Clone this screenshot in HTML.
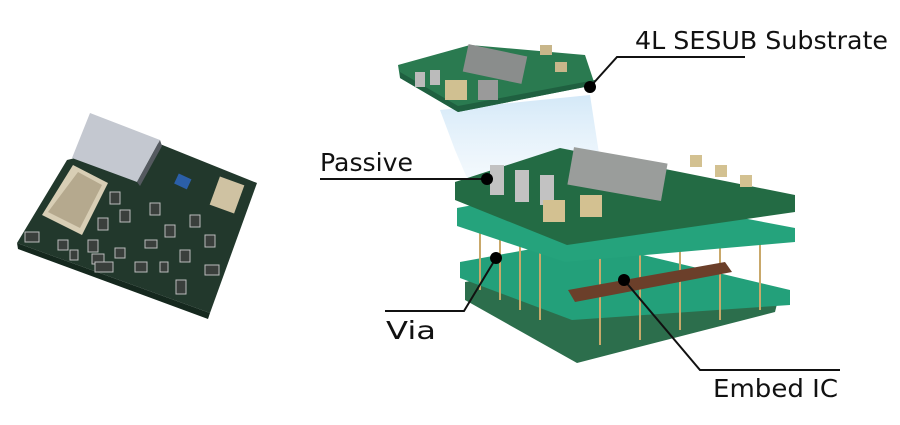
<!DOCTYPE html>
<html><head><style>
html,body{margin:0;padding:0;background:#fff;}
svg{display:block;}
text{font-family:"DejaVu Sans","Liberation Sans",sans-serif;font-size:25px;fill:#111;}
</style></head><body>
<svg width="900" height="425" viewBox="0 0 900 425">
<defs>
<linearGradient id="glow" x1="0" y1="0" x2="0" y2="1">
<stop offset="0" stop-color="#cfe6f7" stop-opacity="0.9"/>
<stop offset="1" stop-color="#e6f2fb" stop-opacity="0.4"/>
</linearGradient>
</defs>
<!-- left chip -->
<polygon points="67,160 150,140 257,183 210,313 17,243" fill="#22382c"/>
<polygon points="17,243 210,313 208,319 18,249" fill="#15281e"/>
<polygon points="90,113 160,140 137,182 72,158" fill="#c4c8d0"/>
<polygon points="137,182 160,140 162,146 140,186" fill="#555a60"/>
<polygon points="73,165 108,183 82,235 42,215" fill="#d8ceb5"/>
<polygon points="78,172 102,185 80,228 48,212" fill="#b5a98e"/>
<rect x="176" y="176" width="14" height="11" fill="#2b5fa8" transform="rotate(25 183 181)"/>
<rect x="214" y="180" width="26" height="30" fill="#cfc2a2" transform="rotate(20 227 195)"/>
<g fill="#3a3f3c" stroke="#bbb" stroke-width="1">
<rect x="110" y="192" width="10" height="12"/><rect x="120" y="210" width="10" height="12"/><rect x="98" y="218" width="10" height="12"/>
<rect x="150" y="203" width="10" height="12"/><rect x="165" y="225" width="10" height="12"/><rect x="190" y="215" width="10" height="12"/>
<rect x="205" y="235" width="10" height="12"/><rect x="180" y="250" width="10" height="12"/><rect x="145" y="240" width="12" height="8"/>
<rect x="115" y="248" width="10" height="10"/><rect x="88" y="240" width="10" height="12"/><rect x="25" y="232" width="14" height="10"/>
<rect x="58" y="240" width="10" height="10"/><rect x="70" y="250" width="8" height="10"/><rect x="92" y="254" width="12" height="10"/>
<rect x="135" y="262" width="12" height="10"/><rect x="95" y="262" width="18" height="10"/><rect x="160" y="262" width="8" height="10"/>
<rect x="176" y="280" width="10" height="14"/><rect x="205" y="265" width="14" height="10"/>
</g>
<!-- glow -->
<polygon points="440,110 590,95 600,160 470,185 455,150" fill="url(#glow)"/>
<!-- top small board -->
<polygon points="398,65 470,45 585,55 595,85 458,112 400,78" fill="#2a7a50"/>
<polygon points="400,78 458,112 595,85 595,80 458,106 400,72" fill="#1f6040"/>
<rect x="465" y="50" width="60" height="28" fill="#8a8d8c" transform="rotate(12 495 64)"/>
<rect x="445" y="80" width="22" height="20" fill="#d0c091"/><rect x="478" y="80" width="20" height="20" fill="#9a9a9a"/>
<rect x="415" y="72" width="10" height="15" fill="#bbb"/><rect x="430" y="70" width="10" height="15" fill="#bbb"/>
<rect x="540" y="45" width="12" height="10" fill="#c8b68a"/><rect x="555" y="62" width="12" height="10" fill="#c8b68a"/>
<!-- bottom layer -->
<polygon points="465,282 580,262 778,300 775,312 577,363 465,300" fill="#2c6e4c"/>
<!-- layer 3 -->
<polygon points="460,262 580,240 790,290 790,305 572,320 460,278" fill="#23a07a"/>
<!-- vias -->
<g stroke="#c9a86a" stroke-width="2">
<line x1="480" y1="225" x2="480" y2="290"/><line x1="500" y1="230" x2="500" y2="300"/><line x1="520" y1="235" x2="520" y2="310"/>
<line x1="540" y1="240" x2="540" y2="320"/><line x1="600" y1="255" x2="600" y2="345"/><line x1="640" y1="250" x2="640" y2="340"/>
<line x1="680" y1="245" x2="680" y2="330"/><line x1="720" y1="240" x2="720" y2="320"/><line x1="760" y1="240" x2="760" y2="310"/>
</g>
<!-- embed IC -->
<polygon points="568,290 725,262 732,272 575,302" fill="#6b3f2a"/>
<!-- layer 2 -->
<polygon points="457,208 575,186 795,228 795,242 565,262 457,226" fill="#25a37c"/>
<!-- top main board -->
<polygon points="455,182 560,148 795,195 795,212 567,245 455,200" fill="#236b44"/>
<rect x="570" y="155" width="95" height="38" fill="#9a9d9b" transform="rotate(10 617 174)"/>
<g fill="#c2c2c2"><rect x="490" y="165" width="14" height="30"/><rect x="515" y="170" width="14" height="32"/><rect x="540" y="175" width="14" height="30"/></g>
<g fill="#d3c191"><rect x="543" y="200" width="22" height="22"/><rect x="580" y="195" width="22" height="22"/><rect x="690" y="155" width="12" height="12"/><rect x="715" y="165" width="12" height="12"/><rect x="740" y="175" width="12" height="12"/></g>
<!-- leader lines -->
<g stroke="#111" stroke-width="2" fill="none">
<polyline points="590,87 617,57 745,57"/>
<line x1="320" y1="179" x2="487" y2="179"/>
<polyline points="385,311 464,311 496,258"/>
<polyline points="624,280 700,370 840,370"/>
</g>
<g fill="#000"><circle cx="590" cy="87" r="6"/><circle cx="487" cy="179" r="6"/><circle cx="496" cy="258" r="6"/><circle cx="624" cy="280" r="6"/></g>
<text x="635" y="49" textLength="253" lengthAdjust="spacingAndGlyphs">4L SESUB Substrate</text>
<text x="320" y="171" textLength="93" lengthAdjust="spacingAndGlyphs">Passive</text>
<text x="386" y="339" textLength="50" lengthAdjust="spacingAndGlyphs">Via</text>
<text x="713" y="397" textLength="125" lengthAdjust="spacingAndGlyphs">Embed IC</text>
</svg>
</body></html>
